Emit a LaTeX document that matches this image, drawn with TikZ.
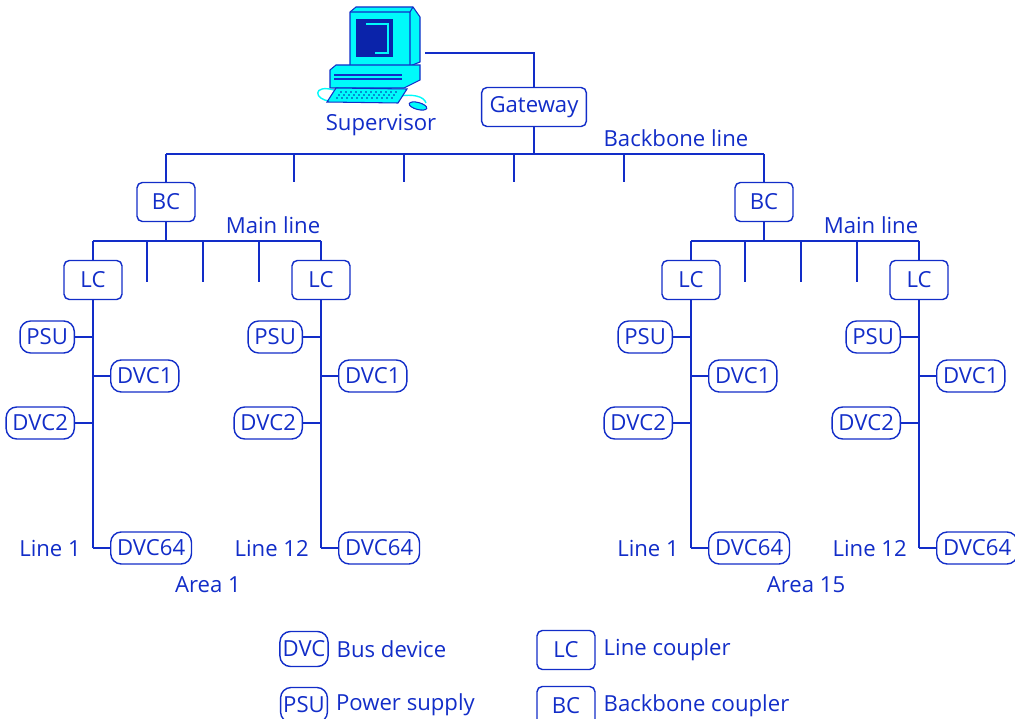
\documentclass[tikz,border=0pt]{standalone}
\usepackage{fontspec}
\setmainfont{Open Sans}
\usepackage{tikz}
\usetikzlibrary{positioning}
\definecolor{knxblue}{RGB}{18,45,200}
\definecolor{casecyan}{RGB}{0,250,250}
\definecolor{screenblue}{RGB}{10,35,170}

\begin{document}
\begin{tikzpicture}[
  x=0.02cm, y=-0.02cm,
  every node/.style={text=knxblue, font=\fontsize{12.6}{14}\selectfont},
  coupler/.style={draw=knxblue, line width=0.8pt, rounded corners=3pt, inner xsep=4.5pt, minimum width=1.16cm, minimum height=0.78cm},
  device/.style={draw=knxblue, line width=0.8pt, rounded corners=6pt, inner xsep=3.6pt, inner ysep=3.5pt, minimum height=0.64cm},
  keybox/.style={device, inner xsep=1.5pt, minimum height=0.7cm},
  bus/.style={draw=knxblue, line width=0.85pt},
  pc/.style={draw=knxblue, line width=0.6pt, fill=casecyan}
]
  \useasboundingbox (0,0) rectangle (1015,719);

  % supervisor workstation
  \draw[pc] (350,12) -- (356,7) -- (413,7) -- (420,17) -- (420,62) -- (410,66) -- (350,66) -- cycle;
  \draw[knxblue, line width=0.6pt] (410,12) -- (410,66) (350,12) -- (410,12) -- (413,7);
  \fill[screenblue] (356,19) rectangle (393,57);
  \draw[casecyan, line width=0.6pt] (366,24) -- (388,24) -- (388,53) -- (375,53);
  \draw[pc] (330,70) -- (336,65) -- (420,65) -- (420,80) -- (404,88) -- (330,88) -- cycle;
  \draw[knxblue, line width=0.6pt] (334,75) -- (402,75) (334,79) -- (402,79);
  \draw[casecyan, line width=0.8pt] (334,90) .. controls (312,84) and (314,100) .. (330,101)
    (400,96) .. controls (412,94) and (424,96) .. (426,103);
  \draw[pc] (336,88) -- (407,89) -- (398,103) -- (327,102) -- cycle;
  \foreach \r in {0,1,2}
    \foreach \c in {0,...,11}
      \fill[screenblue] (341+\c*5-\r*2,92+\r*3) circle (0.8);
  \draw[pc, rotate around={-15:(418,106)}] (418,106) ellipse (9 and 3.5);
  \node (sup) at (381,125) {Supervisor};
  \coordinate (pcport) at (425,53);

  % gateway and backbone line
  \node[coupler] (gw) at (534,107) {Gateway};
  \draw[bus] (pcport) -| (gw.north);
  \coordinate (bbL) at (166,154);
  \coordinate (bbR) at (764,154);
  \draw[bus] (gw.south) -- (gw.south |- bbL);
  \draw[bus] (bbL) -- (bbR);
  \foreach \x in {294,404,514,624}
    \draw[bus] (\x,154) -- (\x,182);
  \node (bbtext) at (676,138) {Backbone line};

  % areas with backbone couplers and main lines
  \foreach \a/\bx/\num in {L/166/1, R/764/15} {
    \node[coupler] (bc\a) at (\bx,202) {BC};
    \draw[bus] (bb\a) -- (bc\a.north);
    \coordinate (ml\a) at (\bx,241);
    \draw[bus] (bc\a.south) -- (ml\a);
    \draw[bus] (\bx-73,241) -- (\bx+155,241);
    \foreach \dx in {-19,37,93}
      \draw[bus] (\bx+\dx,241) -- (\bx+\dx,282);
    \node (mltext\a) at (\bx+107,225) {Main line};
    \node (area\a) at (\bx+42,585) {Area \num};
  }

  % lines with couplers and devices
  \foreach \ln/\lx/\lname in {1/93/Line 1, 2/321/Line 12, 3/691/Line 1, 4/919/Line 12} {
    \node[coupler] (lc\ln) at (\lx,280) {LC};
    \draw[bus] (\lx,241) -- (lc\ln.north);
    \coordinate (end\ln) at (\lx,548);
    \draw[bus] (lc\ln.south) -- (end\ln);
    \node[device, anchor=east] (psu\ln) at (\lx-18,337) {PSU};
    \node[device, anchor=west] (dvcA\ln) at (\lx+17,376) {DVC1};
    \node[device, anchor=east] (dvcB\ln) at (\lx-18,423) {DVC2};
    \node[device, anchor=west] (dvcZ\ln) at (\lx+17,548) {DVC64};
    \draw[bus] (psu\ln) -- (\lx,337);
    \draw[bus] (dvcA\ln) -- (\lx,376);
    \draw[bus] (dvcB\ln) -- (\lx,423);
    \draw[bus] (dvcZ\ln) -- (end\ln);
    \node[anchor=east] (lntext\ln) at (\lx-6,548) {\lname};
  }

  % key
  \node[keybox] (keydvc) at (304,649) {DVC};
  \node[right=1pt of keydvc] (keydvctext) {Bus device};
  \node[keybox] (keypsu) at (304,705) {PSU};
  \node[right=1pt of keypsu] (keypsutext) {Power supply};
  \node[coupler] (keylc) at (566,650) {LC};
  \node[right=1pt of keylc] (keylctext) {Line coupler};
  \node[coupler] (keybc) at (566,706) {BC};
  \node[right=1pt of keybc] (keybctext) {Backbone coupler};
\end{tikzpicture}
\end{document}
